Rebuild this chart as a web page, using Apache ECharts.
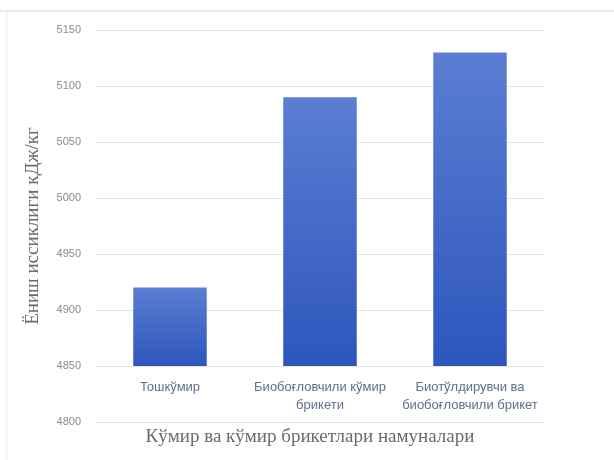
<!DOCTYPE html>
<html>
<head>
<meta charset="utf-8">
<script src="https://cdn.jsdelivr.net/npm/echarts@6/dist/echarts.min.js"></script>
<style>
  html, body { margin: 0; padding: 0; background: #ffffff; }
  #chart { width: 614px; height: 460px; }
</style>
</head>
<body>
<div id="chart"></div>
<script>
// Sample names (x categories)
const categories = [
  'Тошкўмир',
  'Биобоғловчили кўмир\nбрикети',
  'Биотўлдирувчи ва\nбиобоғловчили брикет'
];
// Heat of combustion, kJ/kg
const heatValues = [4920, 5090, 5130];
// Value axis ticks
const yTicks = { min: 4800, max: 5150, interval: 50 };
// Level the horizontal axis crosses and the bars grow from
const crossValue = 4850;

const yTitle = 'Ёниш иссиклиги кДж/кг';
const xTitle = 'Кўмир ва кўмир брикетлари намуналари';

const chart = echarts.init(document.getElementById('chart'), null, { renderer: 'canvas' });

const barFill = new echarts.graphic.LinearGradient(0, 0, 0, 1, [
  { offset: 0, color: '#5b7ed2' },
  { offset: 1, color: '#2d56bd' }
]);

chart.setOption({
  animation: false,
  backgroundColor: '#ffffff',
  grid: { left: 95, right: 69, top: 30, bottom: 38 },
  xAxis: {
    type: 'category',
    data: categories,
    axisLine: { show: false },
    axisTick: { show: false },
    axisLabel: {
      margin: -44,
      color: '#5f6f8c',
      fontFamily: 'Liberation Sans',
      fontSize: 13,
      lineHeight: 18,
      interval: 0
    },
    name: xTitle,
    nameLocation: 'middle',
    nameGap: 6,
    nameTextStyle: {
      fontFamily: 'Liberation Serif',
      fontSize: 19,
      color: '#6b6b6b',
      verticalAlign: 'top',
      padding: [0, 20, 0, 0]
    }
  },
  yAxis: {
    type: 'value',
    min: yTicks.min,
    max: yTicks.max,
    interval: yTicks.interval,
    axisLine: { show: false },
    axisTick: { show: false },
    axisLabel: {
      color: '#8a8a8a',
      fontFamily: 'Liberation Sans',
      fontSize: 11,
      margin: 14,
      formatter: v => String(v)
    },
    splitLine: { lineStyle: { color: '#e4e4e4', width: 1 } },
    name: yTitle,
    nameLocation: 'middle',
    nameRotate: 90,
    nameGap: 52,
    nameTextStyle: {
      fontFamily: 'Liberation Serif',
      fontSize: 19,
      color: '#6b6b6b'
    }
  },
  series: [
    {
      // invisible base up to the crossing level
      type: 'bar',
      stack: 'heat',
      silent: true,
      barWidth: '49%',
      itemStyle: { color: 'rgba(0,0,0,0)' },
      data: categories.map(() => crossValue)
    },
    {
      type: 'bar',
      stack: 'heat',
      barWidth: '49%',
      itemStyle: { color: barFill },
      data: heatValues.map(v => v - crossValue)
    }
  ],
  graphic: [
    {
      type: 'line',
      shape: { x1: 0, y1: 11, x2: 614, y2: 11 },
      style: { stroke: '#e2e2e2', lineWidth: 1.5 }
    },
    {
      type: 'line',
      shape: { x1: 7, y1: 11, x2: 7, y2: 460 },
      style: { stroke: '#ececec', lineWidth: 1 }
    }
  ]
});
</script>
</body>
</html>
